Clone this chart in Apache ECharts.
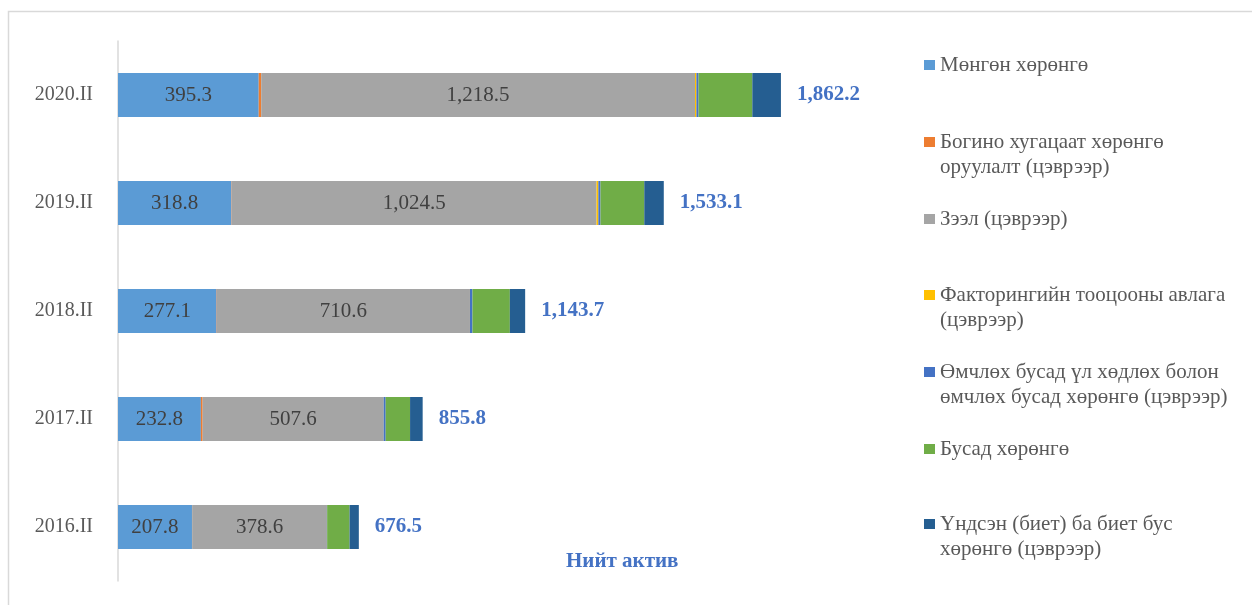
<!DOCTYPE html>
<html>
<head>
<meta charset="utf-8" />
<script src="https://cdn.jsdelivr.net/npm/echarts@6/dist/echarts.min.js"></script>
<style>
  html,
  body {
    margin: 0;
    padding: 0;
    background: #fff;
  }
  #chart {
    width: 1252px;
    height: 605px;
  }
</style>
</head>
<body>
<div id="chart"></div>
<script>
// data
const categories = ["2016.II", "2017.II", "2018.II", "2019.II", "2020.II"];
const cash = [207.8, 232.8, 277.1, 318.8, 395.3];
const shortInvest = [0.5, 5, 1, 1, 7];
const loans = [378.6, 507.6, 710.6, 1024.5, 1218.5];
const factoring = [0, 0.5, 0, 5, 4];
const otherProperty = [0.6, 6, 7, 6, 6];
const otherAssets = [63, 68.5, 105, 123, 151];
const fixedAssets = [26, 35.4, 43, 54.8, 80.4];
const totals = [676.5, 855.8, 1143.7, 1533.1, 1862.2];

const seriesNames = [
  "Мөнгөн хөрөнгө",
  "Богино хугацаат хөрөнгө оруулалт (цэврээр)",
  "Зээл (цэврээр)",
  "Факторингийн тооцооны авлага (цэврээр)",
  "Өмчлөх бусад үл хөдлөх болон өмчлөх бусад хөрөнгө (цэврээр)",
  "Бусад хөрөнгө",
  "Үндсэн (биет) ба биет бус хөрөнгө (цэврээр)"
];
// how the legend wraps each name
const legendText = [
  "Мөнгөн хөрөнгө",
  "Богино хугацаат хөрөнгө\nоруулалт (цэврээр)",
  "Зээл (цэврээр)",
  "Факторингийн тооцооны авлага\n(цэврээр)",
  "Өмчлөх бусад үл хөдлөх болон\nөмчлөх бусад хөрөнгө (цэврээр)",
  "Бусад хөрөнгө",
  "Үндсэн (биет) ба биет бус\nхөрөнгө (цэврээр)"
];
const seriesData = [cash, shortInvest, loans, factoring, otherProperty, otherAssets, fixedAssets];
const colors = ["#5B9BD5", "#ED7D31", "#A5A5A5", "#FFC000", "#4472C4", "#70AD47", "#255E91"];
const legendY = [66, 143, 220, 296, 373, 450, 525];

const serif = "'Liberation Serif', 'Times New Roman', serif";
const fmt = (v) =>
  Number(v).toLocaleString("en-US", { minimumFractionDigits: 1, maximumFractionDigits: 1 });

const chart = echarts.init(document.getElementById("chart"));

const series = seriesNames.map((name, i) => ({
  name,
  type: "bar",
  stack: "total",
  barWidth: 44,
  data: seriesData[i],
  itemStyle: { color: colors[i] },
  label: {
    show: i === 0 || i === 2,
    position: "inside",
    color: "#404040",
    fontFamily: serif,
    fontSize: 21,
    formatter: (p) => fmt(p.value)
  }
}));
// invisible bar over the stack just to place the total label
series.push({
  name: "Нийт актив",
  type: "bar",
  barWidth: 44,
  barGap: "-100%",
  z: 1,
  data: totals,
  itemStyle: { color: "rgba(0,0,0,0)" },
  label: {
    show: true,
    position: "right",
    distance: 16,
    color: "#4472C4",
    fontFamily: serif,
    fontWeight: "bold",
    fontSize: 21,
    formatter: (p) => fmt(p.value)
  }
});

const legends = seriesNames.map((name, i) => {
  const twoLines = legendText[i].indexOf("\n") >= 0;
  return {
    data: [name],
    orient: "vertical",
    left: 924,
    top: twoLines ? legendY[i] - 37.5 - 1 : legendY[i] - 12.5 - 1,
    padding: 0,
    itemWidth: 11,
    itemHeight: 10,
    icon: "rect",
    selectedMode: false,
    formatter: () => (twoLines ? "\n" + legendText[i] : legendText[i]),
    textStyle: {
      fontFamily: serif,
      fontSize: 21,
      lineHeight: 25,
      color: "#595959"
    }
  };
});

const option = {
  animation: false,
  backgroundColor: "#fff",
  legend: legends,
  grid: {
    left: 118,
    top: 41,
    bottom: 24,
    right: 422
  },
  xAxis: {
    type: "value",
    min: 0,
    max: 2000,
    show: false
  },
  yAxis: {
    type: "category",
    data: categories,
    axisLine: { show: true, lineStyle: { color: "#D9D9D9", width: 1.5 } },
    axisTick: { show: false },
    axisLabel: {
      margin: 25,
      color: "#595959",
      fontFamily: serif,
      fontSize: 20
    }
  },
  graphic: [
    {
      type: "rect",
      shape: { x: 8.5, y: 11.5, width: 1300, height: 700 },
      style: { fill: null, stroke: "#D9D9D9", lineWidth: 1.5 },
      silent: true
    },
    {
      type: "text",
      left: 566,
      top: 551,
      style: {
        text: "Нийт актив",
        fill: "#4472C4",
        font: "bold 21px " + serif
      }
    }
  ],
  series
};

chart.setOption(option);
</script>
</body>
</html>
